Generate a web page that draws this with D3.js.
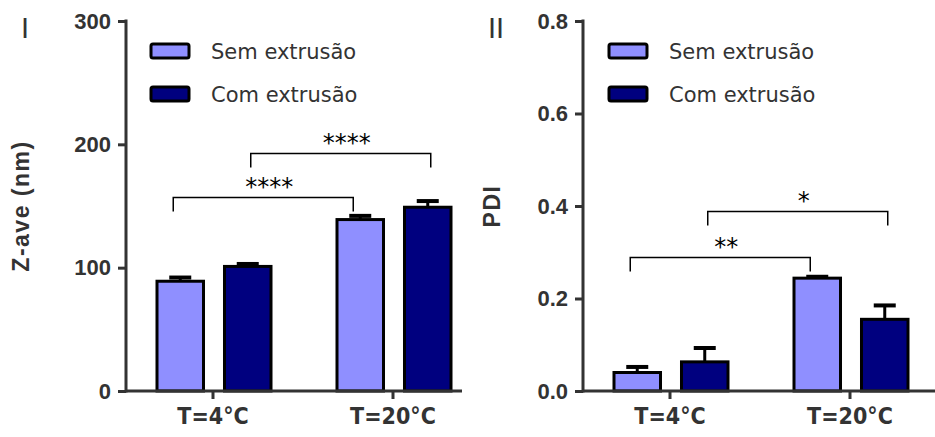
<!DOCTYPE html>
<html>
<head>
<meta charset="utf-8">
<script src="https://cdn.jsdelivr.net/npm/d3@7"></script>
<style>
  body { margin: 0; background: #fff; }
  svg { display: block; }
</style>
</head>
<body>
<script>
// data
let groups = ["T=4°C", "T=20°C"];
let series = ["Sem extrusão", "Com extrusão"];
let colors = ["#8f8fff", "#00007f"];

// panel I : Z-ave (nm)
let zaveMean = [[89, 101], [139, 149]];
let zaveErr  = [[3, 2], [3, 5]];
let zaveTicks = [0, 100, 200, 300];
let zaveBrackets = [
    {from: [0, 0], to: [1, 0], y: 157, label: "****"},
    {from: [0, 1], to: [1, 1], y: 193, label: "****"}
];

// panel II : PDI
let pdiMean = [[0.040, 0.063], [0.244, 0.155]];
let pdiErr  = [[0.012, 0.030], [0.003, 0.030]];
let pdiTicks = [0, 0.2, 0.4, 0.6, 0.8];
let pdiBrackets = [
    {from: [0, 0], to: [1, 0], y: 0.29, label: "**"},
    {from: [0, 1], to: [1, 1], y: 0.389, label: "*"}
];

let w = 935;
let h = 437;
let axisColor = "#333";

let svg = d3.select("body")
    .append("svg")
    .attr("width", w)
    .attr("height", h);

let drawPanel = function(opt) {
    let g = svg.append("g");

    let yScale = d3.scaleLinear()
        .domain(opt.domain)
        .range([391, 21]);

    let x0 = d3.scaleBand()
        .domain(groups)
        .range([opt.axisX - 3, opt.axisX + 357]);

    let x1 = d3.scaleBand()
        .domain(series)
        .range([34, 148])
        .paddingInner(0.311);

    let barCenter = function(gi, si) {
        return x0(groups[gi]) + x1(series[si]) + x1.bandwidth() / 2;
    };

    let rows = [];
    opt.mean.forEach(function(r, gi) {
        r.forEach(function(v, si) {
            rows.push({gi: gi, si: si, v: v, e: opt.err[gi][si]});
        });
    });

    // error bars (upper only), drawn behind the bars
    let eb = g.selectAll(".err")
        .data(rows)
        .enter()
        .append("g");
    eb.append("line")
        .attr("x1", function(d) { return barCenter(d.gi, d.si); })
        .attr("x2", function(d) { return barCenter(d.gi, d.si); })
        .attr("y1", function(d) { return yScale(d.v); })
        .attr("y2", function(d) { return yScale(d.v + d.e); })
        .attr("stroke", "#000")
        .attr("stroke-width", 3);
    eb.append("line")
        .attr("x1", function(d) { return barCenter(d.gi, d.si) - 11; })
        .attr("x2", function(d) { return barCenter(d.gi, d.si) + 11; })
        .attr("y1", function(d) { return yScale(d.v + d.e); })
        .attr("y2", function(d) { return yScale(d.v + d.e); })
        .attr("stroke", "#000")
        .attr("stroke-width", 4);

    g.selectAll("rect.bar")
        .data(rows)
        .enter()
        .append("rect")
        .attr("class", "bar")
        .attr("x", function(d) { return x0(groups[d.gi]) + x1(series[d.si]); })
        .attr("y", function(d) { return yScale(d.v); })
        .attr("width", x1.bandwidth())
        .attr("height", function(d) { return yScale(0) - yScale(d.v); })
        .attr("fill", function(d) { return colors[d.si]; })
        .attr("stroke", "#000")
        .attr("stroke-width", 3);

    // y axis
    let yAxis = d3.axisLeft(yScale)
        .tickValues(opt.ticks)
        .tickFormat(opt.fmt)
        .tickSize(8)
        .tickPadding(7);
    let ya = g.append("g")
        .attr("transform", "translate(" + opt.axisX + ",0)")
        .call(yAxis);
    ya.select(".domain").remove();
    ya.append("line")
        .attr("x1", 0).attr("x2", 0)
        .attr("y1", 19.5).attr("y2", 392.5)
        .attr("stroke", axisColor)
        .attr("stroke-width", 3);
    ya.selectAll(".tick line")
        .attr("stroke", axisColor)
        .attr("stroke-width", 3);
    ya.selectAll(".tick text")
        .attr("fill", axisColor)
        .attr("font-family", "Liberation Sans, Arial, sans-serif")
        .attr("font-weight", "bold")
        .attr("font-size", "22px");

    // x axis
    let xAxis = d3.axisBottom(x0)
        .tickSize(8)
        .tickPadding(9);
    let xa = g.append("g")
        .attr("transform", "translate(0,391)")
        .call(xAxis);
    xa.select(".domain").remove();
    xa.append("line")
        .attr("x1", opt.axisX).attr("x2", opt.xEnd)
        .attr("y1", 0).attr("y2", 0)
        .attr("stroke", axisColor)
        .attr("stroke-width", 3);
    xa.selectAll(".tick line")
        .attr("stroke", axisColor)
        .attr("stroke-width", 3);
    xa.selectAll(".tick text")
        .attr("fill", axisColor)
        .attr("font-family", "DejaVu Sans Condensed, DejaVu Sans, sans-serif")
        .attr("font-weight", "bold")
        .attr("font-size", "23px");

    // significance brackets
    opt.brackets.forEach(function(b, i) {
        let nudge = i === 0 ? -7 : 3;
        let xa1 = barCenter(b.from[0], b.from[1]) + nudge;
        let xb1 = barCenter(b.to[0], b.to[1]) + nudge;
        let yb = Math.round(yScale(b.y)) + 0.5;
        g.append("path")
            .attr("d", "M" + xa1 + "," + (yb + 14) + "V" + yb + "H" + xb1 + "V" + (yb + 14))
            .attr("fill", "none")
            .attr("stroke", "#000")
            .attr("stroke-width", 1.5);
        g.append("text")
            .attr("x", (xa1 + xb1) / 2 + 6)
            .attr("y", yb - 3)
            .attr("text-anchor", "middle")
            .attr("font-family", "DejaVu Sans, sans-serif")
            .attr("font-size", "24px")
            .attr("fill", "#000")
            .text(b.label);
    });

    // legend
    let lg = g.selectAll(".legend")
        .data(series)
        .enter()
        .append("g")
        .attr("transform", function(d, i) { return "translate(" + opt.legendX + "," + (44 + i * 43) + ")"; });
    lg.append("rect")
        .attr("width", 38)
        .attr("height", 14)
        .attr("rx", 2)
        .attr("fill", function(d, i) { return colors[i]; })
        .attr("stroke", "#000")
        .attr("stroke-width", 3);
    lg.append("text")
        .attr("x", 60)
        .attr("y", 15)
        .attr("font-family", "DejaVu Sans, sans-serif")
        .attr("font-size", "21px")
        .attr("fill", axisColor)
        .text(function(d) { return d; });

    // y title
    g.append("text")
        .attr("transform", "translate(" + opt.titleX + ",206) rotate(-90)")
        .attr("text-anchor", "middle")
        .attr("font-family", "Liberation Sans, Arial, sans-serif")
        .attr("font-weight", "bold")
        .attr("font-size", "23px")
        .attr("letter-spacing", "1.5px")
        .attr("fill", axisColor)
        .text(opt.title);

    // panel numeral
    g.append("text")
        .attr("x", opt.numX)
        .attr("y", 38)
        .attr("text-anchor", "middle")
        .attr("font-family", "Liberation Sans, Arial, sans-serif")
        .attr("font-size", "29px")
        .attr("fill", axisColor)
        .text(opt.numeral);
};

drawPanel({
    axisX: 126, xEnd: 462, domain: [0, 300], ticks: zaveTicks, fmt: d3.format("d"),
    mean: zaveMean, err: zaveErr, brackets: zaveBrackets,
    legendX: 151, title: "Z-ave (nm)", titleX: 29, numeral: "I", numX: 25
});

drawPanel({
    axisX: 583, xEnd: 935, domain: [0, 0.8], ticks: pdiTicks, fmt: d3.format(".1f"),
    mean: pdiMean, err: pdiErr, brackets: pdiBrackets,
    legendX: 609, title: "PDI", titleX: 500, numeral: "II", numX: 496
});
</script>
</body>
</html>
